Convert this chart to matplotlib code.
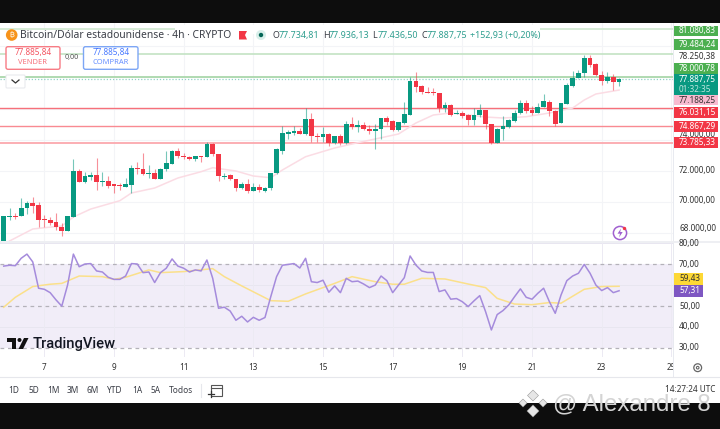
import matplotlib
matplotlib.use("Agg")
from matplotlib import pyplot as plt
from matplotlib.patches import Rectangle, FancyBboxPatch, Circle, Polygon
import numpy as np

plt.rcParams['font.family'] = ['Noto Sans', 'DejaVu Sans']

# BTC 4h candles
opens = [67487,69029,69094,69094,69608,69949,69781,68869,68817,68689,68406,68149,69049,71967,71279,71620,71710,71279,71324,71150,
         71086,70938,71118,72179,72115,71812,71857,71491,72115,72455,73252,72969,72905,72757,72950,72886,73740,73078,71600,71710,
         71491,70912,71131,70720,70977,70720,70893,71877,73271,74364,74447,74537,74364,75328,74255,74171,74383,73785,74216,73805,
         75007,74814,74923,74705,74557,74685,75373,75199,74602,75090,75585,77770,77429,77082,77044,76999,76015,76208,75649,75733,
         75566,75264,75585,75906,75007,73766,74666,74833,75218,75733,76337,75906,75733,76099,76440,75861,75052,76292,77468,77963,
         78265,79268,78843,78175,77751,78046,77734.81]
highs = [69094,69608,69286,70251,70077,70334,69994,69158,69010,69286,68644,69074,72757,72095,71941,71922,72841,71941,71664,71150,
         71235,71536,72372,72583,73123,72372,72095,72198,73271,73336,73445,73123,72950,72950,72982,73830,73785,73078,71838,71774,
         71491,71298,71472,71195,71150,70977,71877,73464,74878,74621,74897,74730,76015,75694,74409,74814,74447,74255,74345,75200,
         75476,75264,75154,74942,74987,75411,75540,75264,75116,76401,78046,78329,77513,77404,77301,77031,76401,76292,75906,75842,
         75649,76015,76292,75938,75007,74750,75521,75328,75906,76549,76549,76163,76337,76935,76549,75906,76356,77622,78432,78477,
         79422,79422,78908,78432,78349,78220,77936.13]
lows = [67487,68837,68901,69094,69222,69306,68406,68387,68515,68194,67808,68149,69049,71279,71235,71407,70765,71022,70893,70572,
        70765,70938,70572,71793,71729,71536,71452,71491,71986,72455,72802,72738,72693,72648,72584,72886,72950,71363,71452,71407,
        70700,70848,70553,70681,70656,70617,70765,71793,73059,74043,74300,74345,74319,73869,73869,73830,73573,73702,73655,73740,
        74685,74512,74621,74345,73381,74043,74942,74576,74576,74987,75585,77044,76935,76980,76870,75797,75797,75521,75630,75373,
        74942,74942,75437,74666,73753,73766,73978,74750,75154,75649,75694,75585,75694,76080,75540,74878,75039,76292,77404,77963,
        78046,78670,78092,77513,77661,77192,77436.50]
closes = [69094,69126,69029,69627,69949,69736,68837,68837,68625,68368,68149,69074,71967,71279,71664,71729,71279,71324,71041,71041,
          71041,71150,72179,72127,71793,71877,71491,72134,72481,73271,72950,72867,72757,72931,72886,73702,73059,71645,71664,71491,
          70912,71150,70720,70977,70765,70912,71877,73400,74409,74473,74576,74364,75328,74216,74171,74364,73805,74235,73805,75007,
          74833,74942,74705,74537,74685,75373,75154,74602,75116,75630,77770,77385,77044,77018,76980,76015,76228,75617,75733,75540,
          75244,75604,75906,74987,73766,74685,74878,75244,75733,76337,75861,75733,76118,76485,75842,75007,76337,77513,77963,78304,
          79268,78798,78136,77751,78046,77725,77887.75]

ema_idx = [1,5,7,10,12,15,20,22,26,30,34,36,40,43,46,48,52,57,61,68,71,74,77,83,86,90,94,98,100,102,106]
ema_val = [67487,68258,68342,68451,69029,69543,70077,70572,70893,71536,71941,72198,71986,71664,71555,72050,72905,73464,73805,
           74364,75071,75585,75714,75456,75392,75476,75714,76035,76549,76935,77188]

rsi = [69,69.4,69.2,72.7,74.7,71,58.5,58,56.4,53,50,60,74.7,68.7,70,70.2,66.7,66.2,63.7,62.7,
       62.7,64.3,70.2,70,65.9,66.2,61.2,65.9,68,72.4,69,68,66.2,67.2,66.7,71.9,63.2,49,49.5,47.7,
       43.3,45.2,42.5,44.7,43.3,44.6,54.5,64,69.4,69.8,70.2,68.1,72.7,61.6,61.2,62.3,56.6,59.6,56.4,63.2,
       61.6,61.9,60.5,58.8,60,64.3,62.1,56.4,60,63.5,73.8,69.5,66.7,66,66,56.9,57.7,53.3,53.6,52.1,
       49.8,52.5,55,47.4,38.7,46,47.9,50.6,54.5,58.2,54.2,53.3,56.1,58.5,52.1,46.6,55.3,62.1,64.3,65.6,
       69.8,65.6,60,57.4,58.8,56.4,57.31]
rsi_ma_idx = [0,2,5,8,10,13,17,19,21,25,27,31,36,38,41,46,49,52,57,60,64,67,69,72,76,80,83,85,88,91,94,96,100,103,106]
rsi_ma_val = [49.5,54.2,59.3,60.4,60.8,64.3,64,62.7,63.7,67.2,65.9,66.4,67.8,64,59.6,52.6,52.3,55.8,60.8,64,
              61.6,60.4,60.4,63.2,62.9,60.5,58.8,53.7,51,50.7,51.7,51.4,58,59.3,59.43]

levels_green = [81080.83, 79484.24, 78000.78]
levels_red = [76031.15, 74867.29, 73785.33]
price_grid = [68000, 70000, 72000, 74000, 76000, 78000, 80000]
rsi_grid = [40, 60, 80]
rsi_dashed = [30, 50, 70]
date_ticks = [7, 19, 31, 43, 55, 67, 79, 91, 103, 115]
date_labels = ['7', '9', '11', '13', '15', '17', '19', '21', '23', '25']
ranges = ['1D', '5D', '1M', '3M', '6M', 'YTD', '1A', '5A', 'Todos']

GREEN = '#089981'
RED = '#f23645'
W, H = 720, 429


def axes_px(x0, y0, x1, y1):
    return fig.add_axes([x0 / W, 1 - y1 / H, (x1 - x0) / W, (y1 - y0) / H])


fig = plt.figure(figsize=(7.2, 4.29), dpi=100, facecolor='white')

# price pane
ax = axes_px(0, 23, 672.5, 242)
ax.set_xlim(-0.64, 115.2)
ax.set_ylim(67423, 81498)
for p in price_grid:
    ax.axhline(p, color='#f3f4f7', lw=0.8, zorder=1)
for t in date_ticks:
    ax.axvline(t, color='#f3f4f7', lw=0.8, zorder=1)
for lv, c in zip(levels_green, ['#cfe8cf', '#c3e3c4', '#a3d5a5']):
    ax.axhline(lv, color=c, lw=1.2, zorder=2)
for lv, c, lw in zip(levels_red, ['#f6707a', '#f98a92', '#fbaeb3'], [1.0, 1.0, 1.4]):
    ax.axhline(lv, color=c, lw=lw, zorder=2)
ax.axhline(closes[-1], color=GREEN, lw=0.9, ls=(0, (1, 1.5)), alpha=0.45, zorder=2)
ax.plot(ema_idx, ema_val, color='#fbdce4', lw=1.1, zorder=3)

x = np.arange(len(opens))
o = np.array(opens)
c = np.array(closes)
cols = [GREEN if b >= a else RED for a, b in zip(o, c)]
ax.vlines(x, lows, highs, colors=cols, lw=0.8, alpha=0.55, zorder=4)
body = np.maximum(np.abs(c - o), 65)
ax.bar(x, body, bottom=np.minimum(o, c), width=0.82, color=cols, lw=0, zorder=5)
ax.axis('off')

# rsi pane
ax2 = axes_px(0, 242, 672.5, 357)
ax2.set_xlim(-0.64, 115.2)
ax2.set_ylim(25.87, 80.44)
ax2.axhspan(30, 70, color='#7e57c2', alpha=0.1, lw=0, zorder=1)
for v in rsi_grid:
    ax2.axhline(v, color='#e8e6f0', lw=0.7, zorder=2)
for t in date_ticks:
    ax2.axvline(t, color='#eceaf3', lw=0.7, zorder=2)
for v in rsi_dashed:
    ax2.axhline(v, color='#b4b2b9', lw=0.9, ls=(0, (3, 3)), zorder=3)
ax2.plot(rsi_ma_idx, rsi_ma_val, color='#fbe08a', lw=1.1, zorder=4)
ax2.plot(x, rsi, color='#a58bdc', lw=1.1, zorder=5)
ax2.axis('off')

# time axis, its last label is cut by the price scale
ax3 = axes_px(0, 357, 672.5, 377)
ax3.set_xlim(-0.64, 115.2)
ax3.set_ylim(0, 1)
ax3.axis('off')
for t, lab in zip(date_ticks, date_labels):
    ax3.text(t, 0.5, lab, color='#333', fontsize=5.9, ha='center', va='center', clip_on=True)

# everything around the panes, in pixel coordinates
ov = fig.add_axes([0, 0, 1, 1], zorder=10)
ov.set_xlim(0, W)
ov.set_ylim(H, 0)
ov.axis('off')
ov.patch.set_alpha(0)

ov.add_patch(Rectangle((0, 0), W, 23, color='#0d0d0d', lw=0))
ov.add_patch(Rectangle((0, 402.5), W, 27, color='#0d0d0d', lw=0))
ov.plot([672.5, 672.5], [23, 377], color='#e8eaf0', lw=0.7)
ov.plot([0, 720], [242, 242], color='#eeeff3', lw=1.4)
ov.plot([0, 720], [377.3, 377.3], color='#e6e7ec', lw=0.8)
ov.add_patch(Rectangle((175, 25), 365, 9, color='white', lw=0))

# header
ov.add_patch(Circle((11.7, 35), 5.8, color='#f7931a', lw=0))
ov.text(11.7, 35, '₿', color='white', fontsize=5.5, ha='center', va='center',
        family=['Inter', 'Roboto', 'Open Sans', 'Lato', 'Noto Sans', 'Liberation Sans', 'DejaVu Sans'])
ov.text(20, 35.5, 'Bitcoin/Dólar estadounidense · 4h · CRYPTO', color='#3b3e47', fontsize=7.4, va='center')
ov.add_patch(Polygon([(239, 31), (247, 31), (245, 35), (247, 39.5), (239, 39.5)], color='#f23645', lw=0))
ov.add_patch(Circle((261, 35), 5, color='#d8efea', lw=0))
ov.add_patch(Circle((261, 35), 2.2, color='#056656', lw=0))
for xp, lab, val in [(272.7, 'O', '77.734,81'), (323, 'H', '77.936,13'), (372, 'L', '77.436,50'), (421, 'C', '77.887,75')]:
    ov.text(xp, 35.5, lab, color='#3b3e47', fontsize=6.4, va='center')
    ov.text(xp + 5.5, 35.5, val, color='#2f9e8f', fontsize=6.4, va='center')
ov.text(470, 35.5, '+152,93 (+0,20%)', color='#2f9e8f', fontsize=6.4, va='center')

# buy / sell buttons
for x0, x1, col, price, lab in [(6, 60, '#f77c85', '77.885,84', 'VENDER'), (83.5, 138, '#7da6f5', '77.885,84', 'COMPRAR')]:
    ov.add_patch(FancyBboxPatch((x0 + 2, 48.7), x1 - x0 - 4, 18.6, boxstyle='round,pad=2', fc='white', ec=col, lw=1))
    txt = '#f23645' if lab == 'VENDER' else '#2962ff'
    ov.text((x0 + x1) / 2, 52.6, price, color=txt, fontsize=5.9, ha='center', va='center', alpha=0.85)
    ov.text((x0 + x1) / 2, 62.3, lab, color=txt, fontsize=5.4, ha='center', va='center', alpha=0.7)
ov.text(72, 57.3, '0,00', color='#555', fontsize=5.2, ha='center', va='center')
ov.add_patch(FancyBboxPatch((7, 76), 17, 11, boxstyle='round,pad=1', fc='white', ec='#e6e7ec', lw=0.7))
ov.plot([12, 15.5, 19], [80, 83, 80], color='#333', lw=0.9)

# right scale
for lab, yp in [('78.250,38', 56), ('74.000,00', 134.5), ('72.000,00', 171), ('70.000,00', 200), ('68.000,00', 229),
                ('80,00', 243.5), ('70,00', 264), ('50,00', 306), ('40,00', 326.5), ('30,00', 347.7)]:
    ov.text(679, yp, lab, color='#333', fontsize=5.9, va='center')
for lab, y0, y1, bg, fg in [('81.080,83', 25.7, 35.7, '#4caf50', 'white'),
                            ('79.484,24', 39.3, 50, '#4caf50', 'white'),
                            ('78.000,78', 62.7, 74, '#4caf50', 'white'),
                            ('77.887,75', 74, 85, GREEN, 'white'),
                            ('77.188,25', 95.3, 105.3, '#f8bbd0', '#333'),
                            ('76.031,15', 106.7, 117.7, RED, 'white'),
                            ('74.867,29', 121, 131.7, RED, 'white'),
                            ('73.785,33', 137.3, 148.3, RED, 'white'),
                            ('59,43', 273, 285, '#fdd835', '#333'),
                            ('57,31', 285, 296.7, '#7e57c2', 'white')]:
    wd = 44 if ',' in lab and '.' in lab else 29
    ov.add_patch(Rectangle((674, y0), wd, y1 - y0, color=bg, lw=0, zorder=3))
    ov.text(679, (y0 + y1) / 2, lab, color=fg, fontsize=5.9, va='center', zorder=4)
ov.add_patch(Rectangle((674, 85), 44, 10.3, color=GREEN, lw=0, zorder=3))
ov.text(679, 90, '01:32:35', color='#bfe6de', fontsize=5.9, va='center', zorder=4)

ov.add_patch(Circle((697.7, 367.7), 3.9, fc='white', ec='#666', lw=0.9))
ov.add_patch(Circle((697.7, 367.7), 1.3, fc='white', ec='#666', lw=0.8))

# toolbar
for xp, lab in zip([14, 33.5, 53, 73, 93, 115, 137, 156, 181], ranges):
    ov.text(xp, 390.7, lab, color='#3b3e47', fontsize=6, ha='center', va='center')
ov.plot([201, 201], [384, 397], color='#e6e7ec', lw=0.8)
ov.add_patch(Rectangle((211, 385), 11, 11, fc='white', ec='#555', lw=0.8))
ov.plot([211, 222], [388, 388], color='#555', lw=0.8)
ov.plot([208, 214], [394, 394], color='#333', lw=0.9)
ov.plot([211, 211], [391, 397], color='#333', lw=0.9)
ov.text(715, 389.5, '14:27:24 UTC', color='#333', fontsize=5.9, ha='right', va='center')

# tradingview mark
ov.add_patch(Polygon([(7, 338), (16, 338), (16, 349), (12, 349), (12, 341.8), (7, 341.8)], color='#111', lw=0))
ov.add_patch(Circle((19.5, 340), 2, color='#111', lw=0))
ov.add_patch(Polygon([(24, 338), (28.5, 338), (23, 349), (18.5, 349)], color='#111', lw=0))
ov.text(33, 344, 'TradingView', color='#131722', fontsize=10.6, fontweight='medium', family='Roboto', va='center')

# alert icon
ov.add_patch(Circle((620, 233), 6.6, fc='white', ec='#a05fd0', lw=1.1))
ov.add_patch(Polygon([(621, 228.5), (617.5, 233.7), (620, 233.7), (619, 237.5), (622.7, 232), (620.2, 232)], color='#a05fd0', lw=0))
ov.add_patch(Circle((624.5, 228.5), 1.7, color='#f23645', lw=0))

# watermark
for cx, cy, r in [(533, 395.5, 5.5), (523, 403, 4), (543, 403, 4), (533, 411, 6)]:
    ov.add_patch(Polygon([(cx, cy - r), (cx + r, cy), (cx, cy + r), (cx - r, cy)], fc='#e6e6e6', ec='#999', lw=0.4))
ov.text(553, 404.5, '@ Alexandre 8', color='#d4d4d4', fontsize=17.3, family='Liberation Sans', va='center')

fig.savefig('out.png', dpi=100)
